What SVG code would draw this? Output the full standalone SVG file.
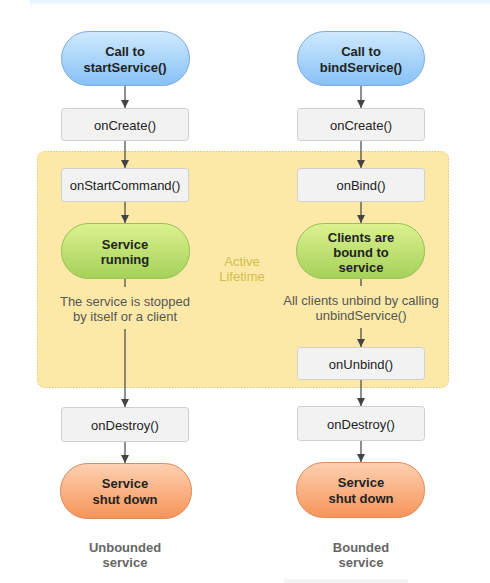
<svg xmlns="http://www.w3.org/2000/svg" width="490" height="583" viewBox="0 0 490 583">
  <defs>
    <linearGradient id="gBlue" x1="0" y1="0" x2="0" y2="1">
      <stop offset="0" stop-color="#cfe9fd"/>
      <stop offset="1" stop-color="#86c1f6"/>
    </linearGradient>
    <linearGradient id="gGreen" x1="0" y1="0" x2="0" y2="1">
      <stop offset="0" stop-color="#dcf28f"/>
      <stop offset="1" stop-color="#a4d159"/>
    </linearGradient>
    <linearGradient id="gOrange" x1="0" y1="0" x2="0" y2="1">
      <stop offset="0" stop-color="#fdd0b2"/>
      <stop offset="1" stop-color="#f79458"/>
    </linearGradient>
    <marker id="arr" viewBox="0 0 10 10" refX="10" refY="5" markerWidth="8" markerHeight="8" markerUnits="userSpaceOnUse" orient="auto">
      <path d="M0,0 L10,5 L0,10 z" fill="#444"/>
    </marker>
    <style>
      .box { fill: #f2f2f2; stroke: #cfcfcf; stroke-width: 1; }
      .blue { fill: url(#gBlue); stroke: #7fa9e2; stroke-width: 1; }
      .green { fill: url(#gGreen); stroke: #98bf58; stroke-width: 1; }
      .orange { fill: url(#gOrange); stroke: #e0895a; stroke-width: 1; }
      .t { font-family: "Liberation Sans", Arial, sans-serif; font-size: 13px; fill: #222; text-anchor: middle; }
      .b { font-weight: bold; }
      .note { font-family: "Liberation Sans", Arial, sans-serif; font-size: 13px; fill: #555; text-anchor: middle; }
      .cap { font-family: "Liberation Sans", Arial, sans-serif; font-size: 13px; font-weight: bold; fill: #666; text-anchor: middle; }
      .life { font-family: "Liberation Sans", Arial, sans-serif; font-size: 13px; fill: #d2bd4e; text-anchor: middle; }
      .ln { stroke: #444; stroke-width: 1.2; fill: none; }
    </style>
  </defs>

  <!-- page decorations -->
  <rect x="30" y="0" width="460" height="3.5" fill="#e6f4fd"/>
  <rect x="284" y="579" width="124" height="4" fill="#f4f4f4"/>

  <!-- active lifetime region -->
  <g id="active-lifetime">
    <rect x="37.5" y="151.5" width="411" height="236" rx="7" fill="#fde9a7" stroke="#e6c46a" stroke-width="1" stroke-dasharray="1.5,1.5"/>
    <text class="life" x="242" y="266">Active</text>
    <text class="life" x="242" y="281">Lifetime</text>
  </g>

  <!-- connectors -->
  <g id="connectors">
    <line class="ln" x1="125" y1="86" x2="125" y2="108" marker-end="url(#arr)"/>
    <line class="ln" x1="125" y1="141" x2="125" y2="168" marker-end="url(#arr)"/>
    <line class="ln" x1="125" y1="202" x2="125" y2="223" marker-end="url(#arr)"/>
    <line class="ln" x1="125" y1="279" x2="125" y2="287"/>
    <line class="ln" x1="125" y1="329" x2="125" y2="407" marker-end="url(#arr)"/>
    <line class="ln" x1="125" y1="442" x2="125" y2="463" marker-end="url(#arr)"/>

    <line class="ln" x1="361" y1="86" x2="361" y2="108" marker-end="url(#arr)"/>
    <line class="ln" x1="361" y1="141" x2="361" y2="168" marker-end="url(#arr)"/>
    <line class="ln" x1="361" y1="202" x2="361" y2="223" marker-end="url(#arr)"/>
    <line class="ln" x1="361" y1="279" x2="361" y2="286"/>
    <line class="ln" x1="361" y1="328" x2="361" y2="347" marker-end="url(#arr)"/>
    <line class="ln" x1="361" y1="380" x2="361" y2="406" marker-end="url(#arr)"/>
    <line class="ln" x1="361" y1="441" x2="361" y2="462" marker-end="url(#arr)"/>
  </g>

  <!-- unbounded service column -->
  <g id="call-start">
    <rect class="blue" x="61.5" y="31.5" width="128" height="54" rx="27"/>
    <text class="t b" x="125" y="56">Call to</text>
    <text class="t b" x="125" y="71.5">startService()</text>
  </g>
  <g id="oncreate-left">
    <rect class="box" x="61.5" y="108.5" width="127" height="32" rx="3"/>
    <text class="t" x="125" y="129.5">onCreate()</text>
  </g>
  <g id="onstartcommand">
    <rect class="box" x="61.5" y="168.5" width="127" height="33" rx="3"/>
    <text class="t" x="125" y="189.5">onStartCommand()</text>
  </g>
  <g id="service-running">
    <rect class="green" x="61.5" y="223.5" width="128" height="55" rx="27"/>
    <text class="t b" x="125" y="248.5">Service</text>
    <text class="t b" x="125" y="264">running</text>
  </g>
  <g id="stopped-note">
    <text class="note" x="125" y="306">The service is stopped</text>
    <text class="note" x="125" y="321">by itself or a client</text>
  </g>
  <g id="ondestroy-left">
    <rect class="box" x="61.5" y="407.5" width="127" height="34" rx="3"/>
    <text class="t" x="125" y="429.5">onDestroy()</text>
  </g>
  <g id="shutdown-left">
    <rect class="orange" x="60.5" y="463.5" width="131" height="55" rx="27"/>
    <text class="t b" x="125" y="488">Service</text>
    <text class="t b" x="125" y="503.5">shut down</text>
  </g>
  <g id="caption-left">
    <text class="cap" x="125" y="551.5">Unbounded</text>
    <text class="cap" x="125" y="567">service</text>
  </g>

  <!-- bounded service column -->
  <g id="call-bind">
    <rect class="blue" x="297.5" y="31.5" width="127" height="54" rx="27"/>
    <text class="t b" x="361" y="56">Call to</text>
    <text class="t b" x="361" y="71.5">bindService()</text>
  </g>
  <g id="oncreate-right">
    <rect class="box" x="297.5" y="108.5" width="127" height="32" rx="3"/>
    <text class="t" x="361" y="129.5">onCreate()</text>
  </g>
  <g id="onbind">
    <rect class="box" x="297.5" y="168.5" width="127" height="33" rx="3"/>
    <text class="t" x="361" y="189.5">onBind()</text>
  </g>
  <g id="clients-bound">
    <rect class="green" x="296.5" y="223.5" width="128" height="55" rx="27"/>
    <text class="t b" x="361" y="241.5">Clients are</text>
    <text class="t b" x="361" y="256.5">bound to</text>
    <text class="t b" x="361" y="271.5">service</text>
  </g>
  <g id="unbind-note">
    <text class="note" x="361" y="304.5">All clients unbind by calling</text>
    <text class="note" x="361" y="319.5">unbindService()</text>
  </g>
  <g id="onunbind">
    <rect class="box" x="297.5" y="347.5" width="127" height="32" rx="3"/>
    <text class="t" x="361" y="368.5">onUnbind()</text>
  </g>
  <g id="ondestroy-right">
    <rect class="box" x="297.5" y="406.5" width="127" height="34" rx="3"/>
    <text class="t" x="361" y="428.5">onDestroy()</text>
  </g>
  <g id="shutdown-right">
    <rect class="orange" x="296.5" y="462.5" width="128" height="55" rx="27"/>
    <text class="t b" x="361" y="487">Service</text>
    <text class="t b" x="361" y="502.5">shut down</text>
  </g>
  <g id="caption-right">
    <text class="cap" x="361" y="551.5">Bounded</text>
    <text class="cap" x="361" y="567">service</text>
  </g>
</svg>
